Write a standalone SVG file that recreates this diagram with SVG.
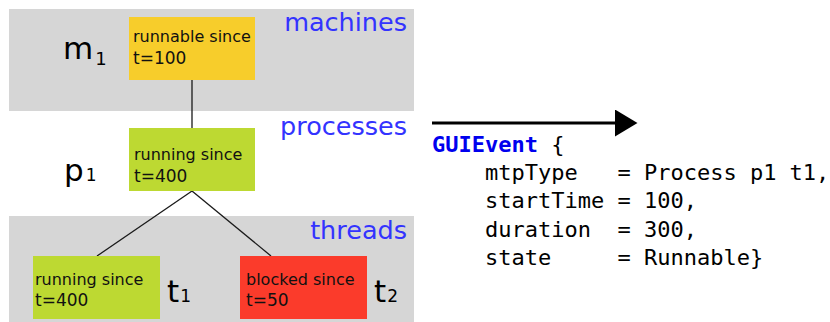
<svg xmlns="http://www.w3.org/2000/svg" width="830" height="322" viewBox="0 0 830 322">
  <defs>
    <style>
      .band { fill: #d6d6d6; }
      .layer { font-family: "DejaVu Sans", sans-serif; font-size: 25.5px; fill: #3333ff; text-anchor: end; }
      .box-text { font-family: "DejaVu Sans", sans-serif; font-size: 16px; fill: #111111; }
      .box-time { font-size: 17px; }
      .name { font-family: "DejaVu Sans", sans-serif; font-size: 31px; fill: #000000; }
      .idx { font-size: 17px; }
      .code { font-family: "DejaVu Sans Mono", monospace; font-size: 22px; fill: #000000; white-space: pre; }
      .kw { fill: #0000ee; font-weight: bold; }
      .link { stroke: #1a1a1a; stroke-width: 1.3; fill: none; }
    </style>
    <marker id="arrowhead" markerWidth="8" markerHeight="9" refX="0" refY="4.5" orient="auto" markerUnits="strokeWidth">
      <path d="M0,0 L7.5,4.5 L0,9 Z" fill="#000000"/>
    </marker>
  </defs>

  <!-- layer bands -->
  <rect class="band" x="9" y="9" width="405" height="102"/>
  <rect class="band" x="9" y="216" width="405" height="106"/>
  <text class="layer" x="407" y="31">machines</text>
  <text class="layer" x="407" y="135">processes</text>
  <text class="layer" x="407" y="239">threads</text>

  <!-- connectors -->
  <g id="connectors">
    <line class="link" x1="192" y1="80" x2="192" y2="128"/>
    <line class="link" x1="192" y1="191" x2="97" y2="256"/>
    <line class="link" x1="192" y1="191" x2="271" y2="256"/>
    <line x1="432" y1="123" x2="615" y2="123" stroke="#000000" stroke-width="3" marker-end="url(#arrowhead)"/>
  </g>

  <!-- machine m1 -->
  <g id="machine-m1">
    <rect x="129" y="17" width="126" height="63" fill="#f7cd2b"/>
    <text class="box-text" x="133" y="42">runnable since</text>
    <text class="box-text box-time" x="133" y="64">t=100</text>
    <text class="name" x="63" y="59">m<tspan class="idx" style="font-size:18px" dx="2" dy="6">1</tspan></text>
  </g>

  <!-- process p1 -->
  <g id="process-p1">
    <rect x="129" y="128" width="126" height="63" fill="#bdd932"/>
    <text class="box-text" x="134" y="160">running since</text>
    <text class="box-text box-time" x="134" y="182">t=400</text>
    <text class="name" x="64" y="181">p<tspan class="idx" dx="2">1</tspan></text>
  </g>

  <!-- thread t1 -->
  <g id="thread-t1">
    <rect x="33" y="256" width="127" height="63" fill="#bdd932"/>
    <text class="box-text" x="35" y="285">running since</text>
    <text class="box-text box-time" x="35" y="306">t=400</text>
    <text class="name" x="167" y="302">t<tspan class="idx" dx="1">1</tspan></text>
  </g>

  <!-- thread t2 -->
  <g id="thread-t2">
    <rect x="240" y="256" width="127" height="63" fill="#fb3b2b"/>
    <text class="box-text" x="246" y="285">blocked since</text>
    <text class="box-text box-time" x="246" y="306">t=50</text>
    <text class="name" x="374" y="302">t<tspan class="idx" dx="1">2</tspan></text>
  </g>

  <!-- resulting event record -->
  <g id="gui-event">
    <text class="code" x="432" y="152"><tspan class="kw">GUIEvent</tspan> {</text>
    <text class="code" x="432" y="180">    mtpType   = Process p1 t1,</text>
    <text class="code" x="432" y="208">    startTime = 100,</text>
    <text class="code" x="432" y="237">    duration  = 300,</text>
    <text class="code" x="432" y="265">    state     = Runnable}</text>
  </g>
</svg>
